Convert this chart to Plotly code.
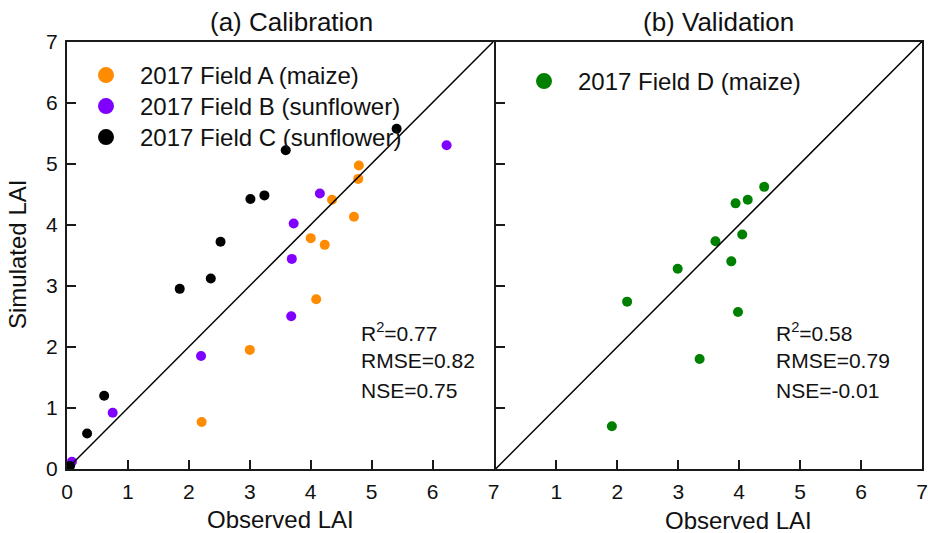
import plotly.graph_objects as go

# Observed vs simulated LAI, calibration fields
field_a_obs = [4.79, 4.78, 4.35, 4.71, 4.00, 4.23, 4.09, 3.00, 2.21]
field_a_sim = [4.97, 4.75, 4.41, 4.13, 3.78, 3.67, 2.78, 1.95, 0.77]
field_b_obs = [6.23, 4.15, 3.72, 3.69, 3.68, 2.20, 0.75, 0.08]
field_b_sim = [5.30, 4.51, 4.02, 3.44, 2.50, 1.85, 0.92, 0.12]
field_c_obs = [5.41, 3.59, 3.24, 3.01, 2.52, 2.36, 1.85, 0.61, 0.33, 0.05]
field_c_sim = [5.57, 5.22, 4.48, 4.42, 3.72, 3.12, 2.95, 1.20, 0.58, 0.05]

# Validation field
field_d_obs = [4.41, 4.14, 3.94, 4.05, 3.61, 3.87, 2.99, 2.16, 3.98, 3.35, 1.91]
field_d_sim = [4.62, 4.41, 4.35, 3.84, 3.73, 3.40, 3.28, 2.74, 2.57, 1.80, 0.70]

calib_names = ["2017 Field A (maize)", "2017 Field B (sunflower)", "2017 Field C (sunflower)"]
calib_obs = [field_a_obs, field_b_obs, field_c_obs]
calib_sim = [field_a_sim, field_b_sim, field_c_sim]
calib_colors = ["#FF8C00", "#8000FF", "#000000"]

valid_names = ["2017 Field D (maize)"]
valid_obs = [field_d_obs]
valid_sim = [field_d_sim]
valid_colors = ["#008000"]

calib_stats = ["R<sup>2</sup>=0.77", "RMSE=0.82", "NSE=0.75"]
valid_stats = ["R<sup>2</sup>=0.58", "RMSE=0.79", "NSE=-0.01"]
stat_rows = [2.24, 1.77, 1.29]

axis_max = 7
one_to_one = [0, axis_max]

W, H = 928, 533
FONT = "Arial, Liberation Sans, sans-serif"


def px_x(p):
    return p / W


def px_y(p):
    return 1 - p / H


fig = go.Figure()

# each legend entry gets its own legend box so rows can be spaced freely
legend_boxes = {}
left_rows = [(72, 53), (72, 84), (72, 115)]
right_rows = [(510, 59)]

entries = []
for i in range(len(calib_names)):
    entries.append(("x", "y", calib_names[i], calib_obs[i], calib_sim[i], calib_colors[i],
                    left_rows[i]))
for i in range(len(valid_names)):
    entries.append(("x2", "y2", valid_names[i], valid_obs[i], valid_sim[i], valid_colors[i],
                    right_rows[i]))

for k, (xa, ya, name, obs, sim, color, (lx, ly)) in enumerate(entries):
    legend_id = "legend" if k == 0 else f"legend{k + 1}"
    fig.add_trace(go.Scatter(x=obs, y=sim, mode="markers", xaxis=xa, yaxis=ya,
                             marker=dict(color=color, size=10), showlegend=False))
    fig.add_trace(go.Scatter(x=[None], y=[None], mode="markers", name=name,
                             xaxis=xa, yaxis=ya, legend=legend_id,
                             marker=dict(color=color, size=16)))
    legend_boxes[legend_id] = dict(
        x=px_x(lx), y=px_y(ly), xanchor="left", yanchor="top",
        bgcolor="rgba(0,0,0,0)", itemwidth=58,
        font=dict(family=FONT, size=24, color="#111"))

# 1:1 lines
for xa, ya in (("x", "y"), ("x2", "y2")):
    fig.add_trace(go.Scatter(x=one_to_one, y=one_to_one, mode="lines", xaxis=xa, yaxis=ya,
                             line=dict(color="black", width=1.5), showlegend=False,
                             hoverinfo="skip"))

axis_common = dict(range=[0, axis_max], showgrid=False, zeroline=False, showline=True,
                   linecolor="#1a1a1a", linewidth=2, mirror=True, ticks="inside",
                   ticklen=9, tickwidth=2, tickcolor="#1a1a1a",
                   tickfont=dict(family=FONT, size=21, color="#111"))

# the two panels share one border line in the middle
y_dom = [px_y(469), px_y(41.5)]
fig.update_layout(
    width=W, height=H,
    margin=dict(l=0, r=0, t=0, b=0, autoexpand=False),
    paper_bgcolor="white", plot_bgcolor="white",
    font=dict(family=FONT, color="#111"),
    xaxis=dict(axis_common, domain=[px_x(67), px_x(493.5)], anchor="y",
               tickvals=list(range(0, 8)), ticklabelstandoff=3),
    yaxis=dict(axis_common, domain=y_dom, anchor="x",
               tickvals=list(range(0, 8)), ticklabelstandoff=3),
    xaxis2=dict(axis_common, domain=[px_x(495.5), px_x(922)], anchor="y2",
                tickvals=list(range(1, 8)), ticklabelstandoff=3),
    yaxis2=dict(axis_common, domain=y_dom, anchor="x2",
                tickvals=list(range(1, 7)), showticklabels=False),
    showlegend=True,
    **legend_boxes,
)

annotations = [
    dict(text="(a) Calibration", x=px_x(291), y=px_y(22)),
    dict(text="(b) Validation", x=px_x(718), y=px_y(22)),
    dict(text="Observed LAI", x=px_x(280.5), y=px_y(519)),
    dict(text="Observed LAI", x=px_x(738), y=px_y(520)),
]
for a in annotations:
    size = 26 if a["text"].startswith("(") else 24
    a.update(xref="paper", yref="paper", xanchor="center", yanchor="middle",
             showarrow=False, font=dict(family=FONT, size=size))

annotations.append(dict(text="Simulated LAI", x=px_x(18), y=px_y(255), xref="paper",
                        yref="paper", xanchor="center", yanchor="middle", showarrow=False,
                        textangle=-90, font=dict(family=FONT, size=24)))

for txt, yv in zip(calib_stats, stat_rows):
    annotations.append(dict(text=txt, x=4.8, y=yv, xref="x", yref="y", xanchor="left",
                            yanchor="middle", showarrow=False,
                            font=dict(family=FONT, size=21)))
for txt, yv in zip(valid_stats, stat_rows):
    annotations.append(dict(text=txt, x=4.57, y=yv, xref="x2", yref="y2", xanchor="left",
                            yanchor="middle", showarrow=False,
                            font=dict(family=FONT, size=21)))

fig.update_layout(annotations=annotations)

fig.write_html("out.html")
